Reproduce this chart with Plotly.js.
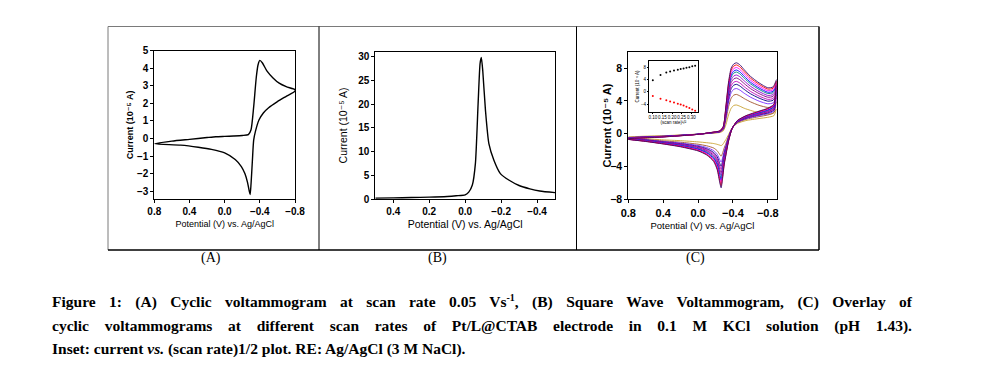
<!DOCTYPE html>
<html>
<head>
<meta charset="utf-8">
<script src="https://cdn.plot.ly/plotly-3.0.1.min.js"></script>
<style>
  html, body { margin:0; padding:0; background:#fff; }
  #wrap { position:relative; width:982px; height:375px; overflow:hidden; }
  #plot { position:absolute; left:0; top:0; width:982px; height:375px; }
  .cap { position:absolute; left:52px; width:860px; font-family:"Liberation Serif","Times New Roman",serif;
         font-weight:bold; font-size:15.5px; line-height:17px; color:#000; z-index:5; }
  .just { text-align:justify; text-align-last:justify; }
  .cap sup { font-size:10px; vertical-align:6px; line-height:0; }
</style>
</head>
<body><div id="wrap"><div id="plot"></div><div class="cap just" style="top:293px">Figure 1: (A) Cyclic voltammogram at scan rate 0.05 Vs<sup>-1</sup>, (B) Square Wave Voltammogram, (C) Overlay of</div><div class="cap just" style="top:316.5px">cyclic voltammograms at different scan rates of Pt/L@CTAB electrode in 0.1 M KCl solution (pH 1.43).</div><div class="cap" style="top:340px">Inset: current <i>vs.</i> (scan rate)1/2 plot. RE: Ag/AgCl (3 M NaCl).</div></div><script>
// ---------- Panel A: cyclic voltammogram (0.05 V/s) ----------
const cvA_E_fwd = [0.8, 0.6, 0.4, 0.2, 0.1, 0.0, -0.1, -0.2, -0.27, -0.3, -0.33, -0.36, -0.38, -0.4, -0.43, -0.48, -0.55, -0.62, -0.7, -0.8];
const cvA_I_fwd = [-0.3, -0.15, -0.05, 0.05, 0.1, 0.12, 0.14, 0.17, 0.22, 0.5, 1.8, 3.5, 4.2, 4.45, 4.3, 3.85, 3.45, 3.15, 2.95, 2.78];
const cvA_E_rev = [-0.8, -0.7, -0.6, -0.5, -0.44, -0.39, -0.35, -0.33, -0.315, -0.3, -0.29, -0.28, -0.26, -0.23, -0.19, -0.12, 0.0, 0.15, 0.3, 0.5, 0.8];
const cvA_I_rev = [2.7, 2.4, 2.1, 1.75, 1.45, 1.05, 0.4, -0.1, -1.3, -2.6, -3.2, -3.0, -2.5, -2.0, -1.6, -1.2, -0.82, -0.62, -0.5, -0.38, -0.3];

// ---------- Panel B: square wave voltammogram ----------
const swv_E = [0.5, 0.4, 0.3, 0.2, 0.1, 0.05, 0.0, -0.02, -0.04, -0.057, -0.072, -0.083, -0.09, -0.098, -0.113, -0.132, -0.16, -0.196, -0.245, -0.3, -0.36, -0.415, -0.5];
const swv_I = [0.25, 0.3, 0.38, 0.45, 0.6, 0.75, 0.95, 1.5, 3.0, 7.5, 20, 28.5, 29.8, 27, 18.7, 11.7, 8.2, 5.4, 4.0, 2.9, 2.2, 1.75, 1.4];

// ---------- Panel C: overlay of CVs at different scan rates ----------
const cvC_E_fwd = [0.8, 0.6, 0.4, 0.2, 0.0, -0.15, -0.25, -0.29, -0.32, -0.35, -0.38, -0.41, -0.44, -0.48, -0.53, -0.6, -0.7, -0.8, -0.86, -0.9];
const cvC_E_rev = [-0.9, -0.87, -0.8, -0.7, -0.55, -0.45, -0.39, -0.35, -0.32, -0.3, -0.28, -0.265, -0.25, -0.22, -0.18, -0.1, 0.0, 0.2, 0.4, 0.6, 0.8];
const cvC_I_fwd = [
  [-0.6,-0.5,-0.4,-0.25,-0.08,0.15,0.35,0.9,3.4,6.3,8.0,8.5,8.65,8.4,7.8,7.0,6.2,5.6,5.7,6.6],
  [-0.59,-0.49,-0.39,-0.25,-0.08,0.15,0.34,0.87,3.29,6.1,7.76,8.25,8.39,8.15,7.57,6.79,6.02,5.44,5.54,6.42],
  [-0.58,-0.48,-0.38,-0.24,-0.08,0.14,0.33,0.84,3.15,5.86,7.46,7.94,8.08,7.84,7.28,6.54,5.8,5.25,5.35,6.2],
  [-0.57,-0.47,-0.37,-0.23,-0.07,0.13,0.32,0.81,3.01,5.62,7.17,7.64,7.77,7.54,7.0,6.29,5.58,5.06,5.16,5.99],
  [-0.56,-0.46,-0.37,-0.23,-0.07,0.13,0.31,0.78,2.89,5.42,6.92,7.39,7.52,7.29,6.77,6.09,5.4,4.9,5.0,5.81],
  [-0.54,-0.44,-0.36,-0.22,-0.07,0.12,0.29,0.74,2.73,5.14,6.58,7.04,7.16,6.94,6.44,5.8,5.14,4.67,4.77,5.56],
  [-0.53,-0.43,-0.35,-0.21,-0.07,0.11,0.28,0.7,2.57,4.86,6.24,6.68,6.8,6.58,6.11,5.51,4.89,4.45,4.55,5.3],
  [-0.51,-0.41,-0.33,-0.21,-0.07,0.11,0.26,0.66,2.39,4.54,5.84,6.28,6.38,6.18,5.73,5.17,4.59,4.19,4.29,5.02],
  [-0.5,-0.4,-0.32,-0.2,-0.06,0.1,0.25,0.62,2.23,4.26,5.5,5.92,6.02,5.82,5.4,4.88,4.34,3.97,4.07,4.76],
  [-0.48,-0.38,-0.31,-0.19,-0.06,0.09,0.23,0.56,2.0,3.86,5.01,5.42,5.51,5.32,4.93,4.47,3.97,3.65,3.75,4.4],
  [-0.45,-0.35,-0.29,-0.18,-0.06,0.08,0.2,0.49,1.68,3.3,4.33,4.71,4.79,4.61,4.28,3.89,3.46,3.2,3.3,3.9],
  [-0.4,-0.3,-0.25,-0.15,-0.05,0.05,0.15,0.35,1.1,2.3,3.1,3.45,3.5,3.35,3.1,2.85,2.55,2.4,2.5,3.0]
];
const cvC_I_rev = [
  [6.6,3.6,3.1,2.75,2.2,1.6,0.6,-0.9,-2.6,-3.8,-5.6,-6.6,-6.0,-4.4,-3.4,-2.6,-2.1,-1.6,-1.25,-0.95,-0.7],
  [6.42,3.53,3.05,2.71,2.17,1.58,0.6,-0.86,-2.51,-3.66,-5.39,-6.34,-5.77,-4.25,-3.29,-2.53,-2.05,-1.56,-1.23,-0.93,-0.69],
  [6.2,3.45,2.98,2.65,2.13,1.56,0.61,-0.81,-2.39,-3.5,-5.13,-6.03,-5.49,-4.06,-3.16,-2.44,-1.98,-1.52,-1.2,-0.91,-0.68],
  [5.99,3.36,2.91,2.6,2.1,1.54,0.62,-0.76,-2.28,-3.33,-4.88,-5.72,-5.22,-3.87,-3.03,-2.35,-1.91,-1.47,-1.17,-0.89,-0.67],
  [5.81,3.29,2.86,2.55,2.07,1.52,0.62,-0.72,-2.18,-3.2,-4.67,-5.47,-4.99,-3.72,-2.92,-2.27,-1.86,-1.44,-1.14,-0.87,-0.66],
  [5.56,3.19,2.78,2.49,2.03,1.5,0.63,-0.67,-2.05,-3.0,-4.37,-5.11,-4.67,-3.5,-2.76,-2.17,-1.78,-1.38,-1.11,-0.85,-0.64],
  [5.3,3.1,2.7,2.43,1.98,1.47,0.64,-0.61,-1.92,-2.81,-4.07,-4.75,-4.34,-3.28,-2.61,-2.06,-1.7,-1.33,-1.07,-0.82,-0.63],
  [5.02,2.98,2.62,2.35,1.94,1.45,0.64,-0.55,-1.76,-2.59,-3.73,-4.33,-3.98,-3.04,-2.43,-1.94,-1.62,-1.27,-1.03,-0.8,-0.61],
  [4.76,2.89,2.54,2.29,1.89,1.42,0.65,-0.49,-1.63,-2.4,-3.43,-3.97,-3.65,-2.82,-2.28,-1.84,-1.54,-1.22,-1.0,-0.77,-0.6],
  [4.4,2.75,2.43,2.2,1.83,1.39,0.66,-0.41,-1.44,-2.12,-3.01,-3.46,-3.19,-2.51,-2.06,-1.69,-1.43,-1.14,-0.95,-0.74,-0.58],
  [3.9,2.55,2.28,2.08,1.75,1.34,0.67,-0.3,-1.18,-1.74,-2.41,-2.74,-2.55,-2.08,-1.75,-1.48,-1.28,-1.04,-0.88,-0.69,-0.55],
  [3.0,2.2,2.0,1.85,1.6,1.25,0.7,-0.1,-0.7,-1.05,-1.35,-1.45,-1.4,-1.3,-1.2,-1.1,-1.0,-0.85,-0.75,-0.6,-0.5]
];
const cvC_colors = ['#3c0a6e','#ff0000','#ff00ff','#0000ff','#008080','#9400d3','#800080','#c000c0','#000080','#7b2cff','#a0522d','#c8a030'];

// ---------- Inset: peak current vs (scan rate)^1/2 ----------
const inset_sqrtv = [0.10, 0.14, 0.17, 0.19, 0.21, 0.23, 0.245, 0.26, 0.275, 0.29, 0.305, 0.32];
const inset_Ipa = [3.8, 5.5, 6.3, 6.6, 6.9, 7.2, 7.4, 7.6, 7.8, 8.0, 8.3, 8.5];
const inset_Ipc = [-1.3, -2.2, -2.7, -3.1, -3.4, -3.8, -4.1, -4.4, -4.8, -5.2, -5.7, -6.1];
const inset_xticks = [0.10, 0.15, 0.20, 0.25, 0.30];
const inset_xlabels = ['0.10', '0.15', '0.20', '0.25', '0.30'];

// ---------- text ----------
const titleX = 'Potential (V) vs. Ag/AgCl';
const titleY = 'Current (10\u207B\u2075 A)';
const titleInsetX = '(scan rate)\u00B9/\u00B2';

// ---------- helpers ----------
const W = 982, H = 375;
const px = x => x / W;
const py = y => 1 - y / H;
const SANS = 'Liberation Sans, Arial, DejaVu Sans, sans-serif';

function ax(o) {
  return Object.assign({
    showline: true, mirror: true, linecolor: '#000', linewidth: 1,
    ticks: 'outside', ticklen: 3, tickwidth: 1, tickcolor: '#000', tickangle: 0,
    showgrid: false, zeroline: false, automargin: false,
    tickfont: { family: SANS, size: 10, color: '#000', weight: 'bold' }
  }, o);
}

const traces = [];
traces.push({ x: cvA_E_fwd.concat(cvA_E_rev), y: cvA_I_fwd.concat(cvA_I_rev), xaxis: 'x', yaxis: 'y',
  mode: 'lines', line: { color: '#000', width: 1.4, shape: 'spline', smoothing: 0.6 }, showlegend: false, hoverinfo: 'skip' });
traces.push({ x: swv_E, y: swv_I, xaxis: 'x2', yaxis: 'y2',
  mode: 'lines', line: { color: '#000', width: 1.4, shape: 'spline', smoothing: 0.6 }, showlegend: false, hoverinfo: 'skip' });
for (let i = cvC_I_fwd.length - 1; i >= 0; i--) {
  traces.push({ x: cvC_E_fwd.concat(cvC_E_rev), y: cvC_I_fwd[i].concat(cvC_I_rev[i]), xaxis: 'x3', yaxis: 'y3',
    mode: 'lines', line: { color: cvC_colors[i], width: 0.9, shape: 'spline', smoothing: 0.6 }, showlegend: false, hoverinfo: 'skip' });
}
traces.push({ x: inset_sqrtv, y: inset_Ipa, xaxis: 'x4', yaxis: 'y4', mode: 'markers',
  marker: { color: '#000', size: 2 }, showlegend: false, hoverinfo: 'skip' });
traces.push({ x: inset_sqrtv, y: inset_Ipc, xaxis: 'x4', yaxis: 'y4', mode: 'markers',
  marker: { color: '#ff0000', size: 2 }, showlegend: false, hoverinfo: 'skip' });

const yA = [py(199), py(50.7)];
const yBC = [py(199.3), py(51.7)];
const inFont = { family: 'Liberation Sans Narrow, Liberation Sans, Arial, sans-serif', size: 4.5, color: '#000' };

const layout = {
  width: W, height: H, margin: { l: 0, r: 0, t: 0, b: 0 },
  paper_bgcolor: '#fff', plot_bgcolor: 'rgba(0,0,0,0)', showlegend: false,
  font: { family: SANS, color: '#000' },
  xaxis: ax({ domain: [px(154.3), px(295)], anchor: 'y', range: [0.8, -0.8], tick0: 0, dtick: 0.4, tickformat: '.1f',
    title: { text: titleX, font: { family: SANS, size: 9, color: '#000' }, standoff: 4 } }),
  yaxis: ax({ domain: yA, anchor: 'x', range: [-3.45, 5], tick0: 0, dtick: 1,
    title: { text: titleY, font: { family: SANS, size: 9, color: '#000', weight: 'bold' }, standoff: 1 } }),
  xaxis2: ax({ domain: [px(375.3), px(555)], anchor: 'y2', range: [0.5, -0.5], tick0: 0, dtick: 0.2, tickformat: '.1f',
    title: { text: titleX, font: { family: SANS, size: 10.5, color: '#000' }, standoff: 4 } }),
  yaxis2: ax({ domain: yBC, anchor: 'x2', range: [0, 31], tick0: 0, dtick: 5,
    title: { text: titleY, font: { family: SANS, size: 10.5, color: '#000' }, standoff: 8 } }),
  xaxis3: ax({ domain: [px(628.3), px(776.5)], anchor: 'y3', range: [0.8, -0.9], tick0: 0, dtick: 0.4, tickformat: '.1f',
    tickfont: { family: SANS, size: 11, color: '#000', weight: 'bold' },
    title: { text: titleX, font: { family: SANS, size: 9.5, color: '#000' }, standoff: 4 } }),
  yaxis3: ax({ domain: yBC, anchor: 'x3', range: [-8, 10], tick0: 0, dtick: 4,
    tickfont: { family: SANS, size: 10.5, color: '#000', weight: 'bold' } }),
  xaxis4: ax({ domain: [px(649), px(698)], anchor: 'y4', range: [0.08, 0.335], tickmode: 'array',
    tickvals: inset_xticks, ticktext: inset_xlabels,
    ticklen: 1, tickfont: inFont,
    title: { text: titleInsetX, font: inFont, standoff: 1 } }),
  yaxis4: ax({ domain: [py(112), py(61)], anchor: 'x4', range: [-6.5, 10], tick0: 0, dtick: 4,
    ticklen: 1, tickfont: inFont,
    title: { text: titleY, font: inFont, standoff: 1 } }),
  shapes: [
    { type: 'line', xref: 'paper', yref: 'paper', x0: px(108), x1: px(819), y0: py(26.5), y1: py(26.5), line: { color: '#7a7a7a', width: 1 } },
    { type: 'line', xref: 'paper', yref: 'paper', x0: px(108), x1: px(108), y0: py(26.5), y1: py(250), line: { color: '#7a7a7a', width: 1 } },
    { type: 'line', xref: 'paper', yref: 'paper', x0: px(819), x1: px(819), y0: py(26.5), y1: py(250), line: { color: '#000', width: 1.5 } },
    { type: 'line', xref: 'paper', yref: 'paper', x0: px(108), x1: px(819), y0: py(250), y1: py(250), line: { color: '#000', width: 1.5 } },
    { type: 'line', xref: 'paper', yref: 'paper', x0: px(319), x1: px(319), y0: py(26.5), y1: py(250), line: { color: '#000', width: 1 } },
    { type: 'line', xref: 'paper', yref: 'paper', x0: px(576.5), x1: px(576.5), y0: py(26.5), y1: py(250), line: { color: '#000', width: 1 } }
  ],
  annotations: [
    { text: titleY, xref: 'paper', yref: 'paper', x: px(606), y: py(125.5), textangle: -90,
      showarrow: false, xanchor: 'center', yanchor: 'middle',
      font: { family: SANS, size: 11, color: '#000', weight: 'bold' } },
    { text: '(A)', xref: 'paper', yref: 'paper', x: px(211), y: py(258), showarrow: false, xanchor: 'center', yanchor: 'middle',
      font: { family: 'Liberation Serif, Times New Roman, serif', size: 14, color: '#000' } },
    { text: '(B)', xref: 'paper', yref: 'paper', x: px(437), y: py(258), showarrow: false, xanchor: 'center', yanchor: 'middle',
      font: { family: 'Liberation Serif, Times New Roman, serif', size: 14, color: '#000' } },
    { text: '(C)', xref: 'paper', yref: 'paper', x: px(695), y: py(258), showarrow: false, xanchor: 'center', yanchor: 'middle',
      font: { family: 'Liberation Serif, Times New Roman, serif', size: 14, color: '#000' } }
  ]
};

Plotly.newPlot('plot', traces, layout, { staticPlot: true, displayModeBar: false });
</script></body></html>
